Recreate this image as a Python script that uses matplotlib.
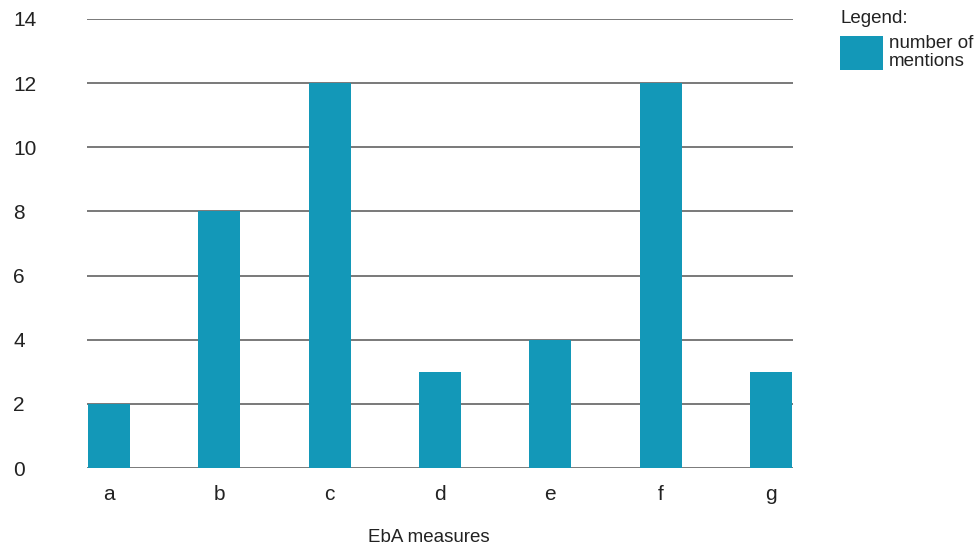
import matplotlib
matplotlib.use("Agg")
from matplotlib import pyplot as plt

plt.rcParams['font.family'] = ['Liberation Sans', 'DejaVu Sans']

categories = ["a", "b", "c", "d", "e", "f", "g"]
mentions = [2, 8, 12, 3, 4, 12, 3]
y_ticks = [0, 2, 4, 6, 8, 10, 12, 14]

bar_color = "#1398b8"
text_color = "#222222"
grid_color = "#555555"

W, H = 976, 549
fig = plt.figure(figsize=(W / 100, H / 100), dpi=100)
ax = fig.add_axes([87 / W, 1 - 468 / H, (793 - 87) / W, (468 - 19) / H])

x = list(range(len(categories)))
bars = ax.bar(x, mentions, width=0.38, color=bar_color, zorder=2, label="number of\nmentions")

ax.set_xlim(-0.2, len(categories) - 0.8)
ax.set_ylim(0, 14)
ax.set_yticks(y_ticks)
ax.set_xticks(x)
ax.set_xticklabels(categories)
ax.yaxis.grid(True, color=grid_color, linewidth=1.1, zorder=1)
ax.set_axisbelow(True)
for s in ax.spines.values():
    s.set_visible(False)

ax.tick_params(axis="both", length=0, labelsize=15, colors=text_color)
ax.tick_params(axis="y", pad=53)
for lab in ax.get_yticklabels():
    lab.set_horizontalalignment("left")
ax.tick_params(axis="x", pad=12)

ax.set_xlabel("EbA measures", fontsize=13.5, color=text_color)
ax.xaxis.set_label_coords((429 - 87) / (793 - 87), (468 - 538) / (468 - 19))
ax.xaxis.label.set_verticalalignment("center")

leg = ax.legend(handles=[bars], loc="upper left", bbox_to_anchor=(840 / W, 1 - 10 / H),
                bbox_transform=fig.transFigure, frameon=False, title="Legend:",
                fontsize=13.5, title_fontsize=13.5, handlelength=2.3, handleheight=2.4,
                handletextpad=0.3, borderpad=0, borderaxespad=0, labelspacing=0.1)
leg._legend_box.align = "left"
leg._legend_box.sep = 6
for t in leg.get_texts():
    t.set_color(text_color)
    t.set_linespacing(1.05)
leg.get_title().set_color(text_color)

fig.savefig("out.png", dpi=100)
